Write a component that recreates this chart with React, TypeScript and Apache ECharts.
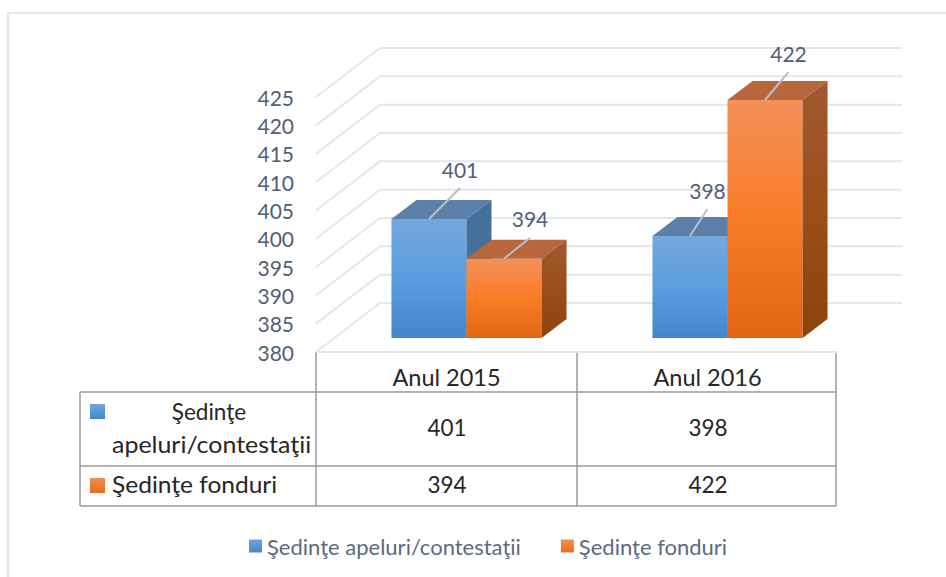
import React, { useEffect, useRef } from "react";
import * as echarts from "echarts";

const categories = ["Anul 2015", "Anul 2016"];
const seriesNames = ["Şedinţe apeluri/contestaţii", "Şedinţe fonduri"];
const apeluri = [401, 398];
const fonduri = [394, 422];
const ticks = [380, 385, 390, 395, 400, 405, 410, 415, 420, 425];

const FONT = "Lato";
const AXIS_COLOR = "#4f5f78";
const TABLE_TEXT = "#262626";
const GRID_COLOR = "#e2e6ee";
const TABLE_LINE = "#9a9a9a";

const grad = (stops: [number, string][]) =>
  new echarts.graphic.LinearGradient(0, 0, 0, 1, stops.map(([offset, color]) => ({ offset, color })));

const blueFront = () => grad([[0, "#74a8de"], [0.5, "#5a9ee0"], [1, "#4386c9"]]);
const orangeFront = () => grad([[0, "#f49058"], [0.5, "#f97c26"], [1, "#e16715"]]);
const blueLegend = () => grad([[0, "#6ea6dd"], [1, "#4587c9"]]);
const orangeLegend = () => grad([[0, "#f48e52"], [1, "#e66d18"]]);

// 3D projection constants (pixels)
const WALL_DX = 64;
const WALL_DY = -49;
const BAR_PLANE_DX = 20;
const BAR_PLANE_DY = -14;
const DEPTH_DX = 25;
const DEPTH_DY = -19;
const BAR_RATIO = 0.2875;

const leader: Record<string, [number, number][]> = {
  [seriesNames[0]]: [[31, -31], [17.5, -27]],
  [seriesNames[1]]: [[26, -21], [23.5, -28]],
};
const labelGap = 19;

function wallItem(params: any, api: any) {
  const cs = params.coordSys;
  const tick = api.value(1);
  const p = api.coord([0, tick]);
  const x0 = cs.x;
  const y0 = p[1];
  const children: any[] = [
    {
      type: "polyline",
      silent: true,
      shape: {
        points: [
          [x0, y0],
          [x0 + WALL_DX, y0 + WALL_DY],
          [x0 + cs.width + WALL_DX, y0 + WALL_DY],
        ],
      },
      style: { stroke: GRID_COLOR, lineWidth: 2, fill: "none" },
    },
  ];
  if (tick === ticks[0]) {
    children.push({
      type: "line",
      silent: true,
      shape: { x1: x0, y1: y0, x2: x0 + cs.width, y2: y0 },
      style: { stroke: GRID_COLOR, lineWidth: 2 },
    });
  }
  return { type: "group", children };
}

const barItem =
  (name: string, side: number, front: () => any, top: string, sideFill: any) =>
  (params: any, api: any) => {
    const catIdx = api.value(0);
    const val = api.value(1);
    const w = api.size([1, 0])[0] * BAR_RATIO;
    const t = api.coord([catIdx, val]);
    const b = api.coord([catIdx, 380]);
    const x0 = t[0] + BAR_PLANE_DX + (side < 0 ? -w : 0);
    const x1 = x0 + w;
    const yT = t[1] + BAR_PLANE_DY;
    const yB = b[1] + BAR_PLANE_DY;
    const cx = (x0 + x1) / 2;
    const [ox, oy] = leader[name][catIdx];
    return {
      type: "group",
      children: [
        {
          type: "rect",
          shape: { x: x0, y: yT, width: w, height: yB - yT },
          style: { fill: front() },
        },
        {
          type: "polygon",
          shape: {
            points: [
              [x0, yT],
              [x0 + DEPTH_DX, yT + DEPTH_DY],
              [x1 + DEPTH_DX, yT + DEPTH_DY],
              [x1, yT],
            ],
          },
          style: { fill: top },
        },
        {
          type: "polygon",
          shape: {
            points: [
              [x1, yT],
              [x1 + DEPTH_DX, yT + DEPTH_DY],
              [x1 + DEPTH_DX, yB + DEPTH_DY],
              [x1, yB],
            ],
          },
          style: { fill: sideFill() },
        },
        {
          type: "line",
          shape: { x1: cx, y1: yT, x2: cx + ox, y2: yT + oy },
          style: { stroke: "#b7c0cc", lineWidth: 2 },
        },
        {
          type: "text",
          style: {
            x: cx + ox,
            y: yT + oy - labelGap,
            text: String(val),
            fill: AXIS_COLOR,
            font: `21px ${FONT}`,
            align: "center",
            verticalAlign: "middle",
          },
        },
      ],
    };
  };

const TBL_L = 80;
const TBL_M = 316;
const TBL_C = 577;
const TBL_R = 836;
const TBL_RY = [392, 466, 506];
const colX = [447, 708];
const vline = (x: number, y1: number, y2: number) => ({
  type: "line",
  silent: true,
  shape: { x1: x, y1, x2: x, y2 },
  style: { stroke: TABLE_LINE, lineWidth: 1.5 },
});
const hline = (y: number, x1: number, x2: number) => ({
  type: "line",
  silent: true,
  shape: { x1, y1: y, x2, y2: y },
  style: { stroke: TABLE_LINE, lineWidth: 1.5 },
});
const tblText = (x: number, y: number, text: string, align = "center", scaleX = 1) => ({
  type: "text",
  silent: true,
  x,
  y,
  scaleX,
  style: { x: 0, y: 0, text, fill: TABLE_TEXT, font: `22.5px ${FONT}`, align, verticalAlign: "middle" },
});

export default function App() {
  const ref = useRef<HTMLDivElement>(null);
  useEffect(() => {
    const chart = echarts.init(ref.current!, null, { renderer: "svg" });
    chart.setOption({
      animation: false,
      backgroundColor: "#ffffff",
      grid: { left: 316, top: 97, width: 522, height: 255 },
      xAxis: {
        type: "category",
        data: categories,
        axisLine: { show: false },
        axisTick: { show: false },
        axisLabel: { color: TABLE_TEXT, fontFamily: FONT, fontSize: 23.5, margin: 13 },
      },
      yAxis: {
        type: "value",
        min: 380,
        max: 425,
        interval: 5,
        splitLine: { show: false },
        axisLine: { show: false },
        axisTick: { show: false },
        axisLabel: { color: AXIS_COLOR, fontFamily: FONT, fontSize: 21, margin: 22 },
      },
      legend: {
        data: seriesNames,
        left: 249,
        top: 535,
        padding: 0,
        icon: "rect",
        itemWidth: 13,
        itemHeight: 13,
        itemGap: 40,
        textStyle: { color: "#5b6b82", fontFamily: FONT, fontSize: 22 },
      },
      series: [
        {
          type: "custom",
          name: "wall",
          silent: true,
          renderItem: wallItem,
          data: ticks.map((t) => [0, t]),
          encode: { x: 0, y: 1 },
          z: 1,
        },
        {
          type: "custom",
          name: seriesNames[0],
          renderItem: barItem(seriesNames[0], -1, blueFront, "#5b80a9", () => "#44709b"),
          data: apeluri.map((v, i) => [i, v]),
          encode: { x: 0, y: 1 },
          itemStyle: { color: blueLegend() },
          z: 2,
        },
        {
          type: "custom",
          name: seriesNames[1],
          renderItem: barItem(seriesNames[1], 1, orangeFront, "#b8673d", () =>
            grad([[0, "#a05a32"], [0.5, "#9c4e18"], [1, "#8c440c"]])
          ),
          data: fonduri.map((v, i) => [i, v]),
          encode: { x: 0, y: 1 },
          itemStyle: { color: orangeLegend() },
          z: 3,
        },
      ],
      graphic: [
        { type: "line", silent: true, shape: { x1: 8, y1: 13, x2: 946, y2: 13 }, style: { stroke: GRID_COLOR, lineWidth: 2 } },
        { type: "line", silent: true, shape: { x1: 8, y1: 13, x2: 8, y2: 577 }, style: { stroke: GRID_COLOR, lineWidth: 2 } },
        vline(TBL_M, 352, TBL_RY[2]),
        vline(TBL_C, 352, TBL_RY[2]),
        vline(TBL_R, 352, TBL_RY[2]),
        vline(TBL_L, TBL_RY[0], TBL_RY[2]),
        hline(TBL_RY[0], TBL_L, TBL_R),
        hline(TBL_RY[1], TBL_L, TBL_R),
        hline(TBL_RY[2], TBL_L, TBL_R),
        { type: "rect", silent: true, shape: { x: 90, y: 404, width: 15, height: 15 }, style: { fill: blueLegend() } },
        { type: "rect", silent: true, shape: { x: 90, y: 478, width: 15, height: 15 }, style: { fill: orangeLegend() } },
        tblText(209, 411, "Şedinţe"),
        tblText(112, 444, "apeluri/contestaţii", "left", 1.11),
        tblText(112, 484, seriesNames[1], "left", 1.09),
        tblText(colX[0], 427, String(apeluri[0])),
        tblText(colX[1], 427, String(apeluri[1])),
        tblText(colX[0], 484, String(fonduri[0])),
        tblText(colX[1], 484, String(fonduri[1])),
      ],
    });
    return () => chart.dispose();
  }, []);
  return <div ref={ref} style={{ position: "fixed", left: 0, top: 0, width: 946, height: 577 }} />;
}
